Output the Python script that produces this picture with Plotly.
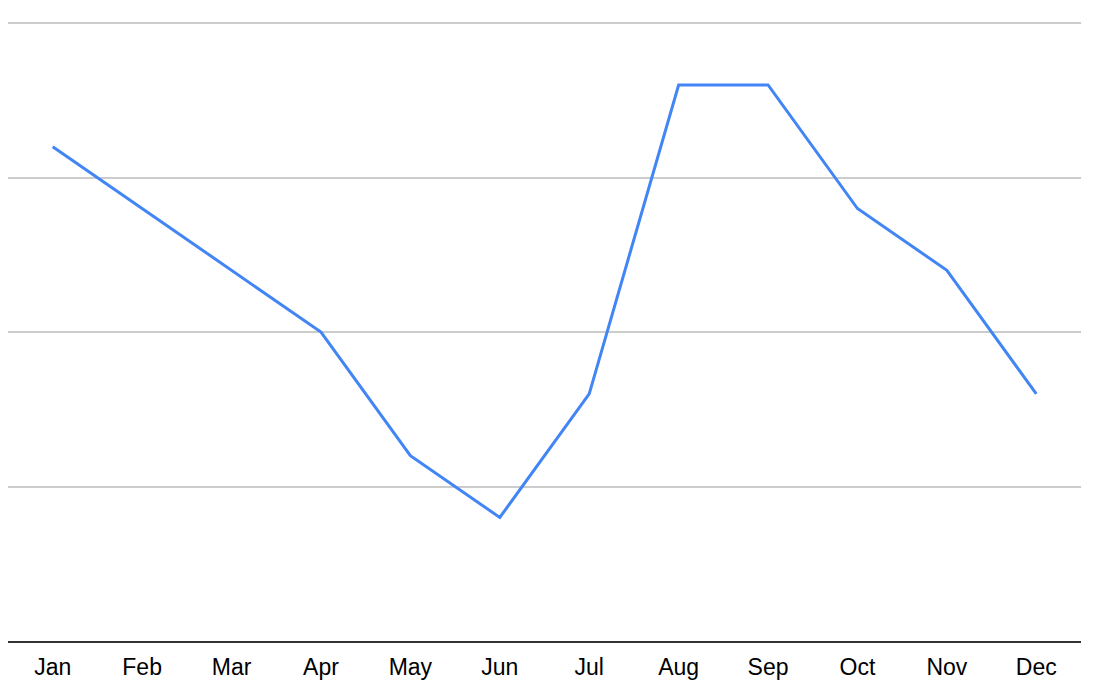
import plotly.graph_objects as go

months = ["Jan", "Feb", "Mar", "Apr", "May", "Jun", "Jul", "Aug", "Sep", "Oct", "Nov", "Dec"]
values = [16, 14, 12, 10, 6, 4, 8, 18, 18, 14, 12, 8]

fig = go.Figure()
fig.add_trace(go.Scatter(x=months, y=values, mode="lines",
                         line=dict(color="#4285F4", width=3)))

fig.update_layout(
    width=1094, height=700,
    margin=dict(l=0, r=21, t=9, b=67),
    paper_bgcolor="white", plot_bgcolor="white",
    showlegend=False,
    font=dict(family="Liberation Sans, Arial, sans-serif", size=23, color="#000000"),
)
fig.update_xaxes(showgrid=False, showline=True, linecolor="#333333", linewidth=2,
                 ticks="", tickfont=dict(size=23, color="#000000"),
                 range=[-0.5, 11.5], ticklabelstandoff=4)
fig.update_yaxes(range=[0, 20.2], tickvals=[0, 5, 10, 15, 20], showgrid=True,
                 gridcolor="#cccccc", gridwidth=1.5,
                 showticklabels=False, zeroline=False, showline=False)

fig.write_html("out.html")
